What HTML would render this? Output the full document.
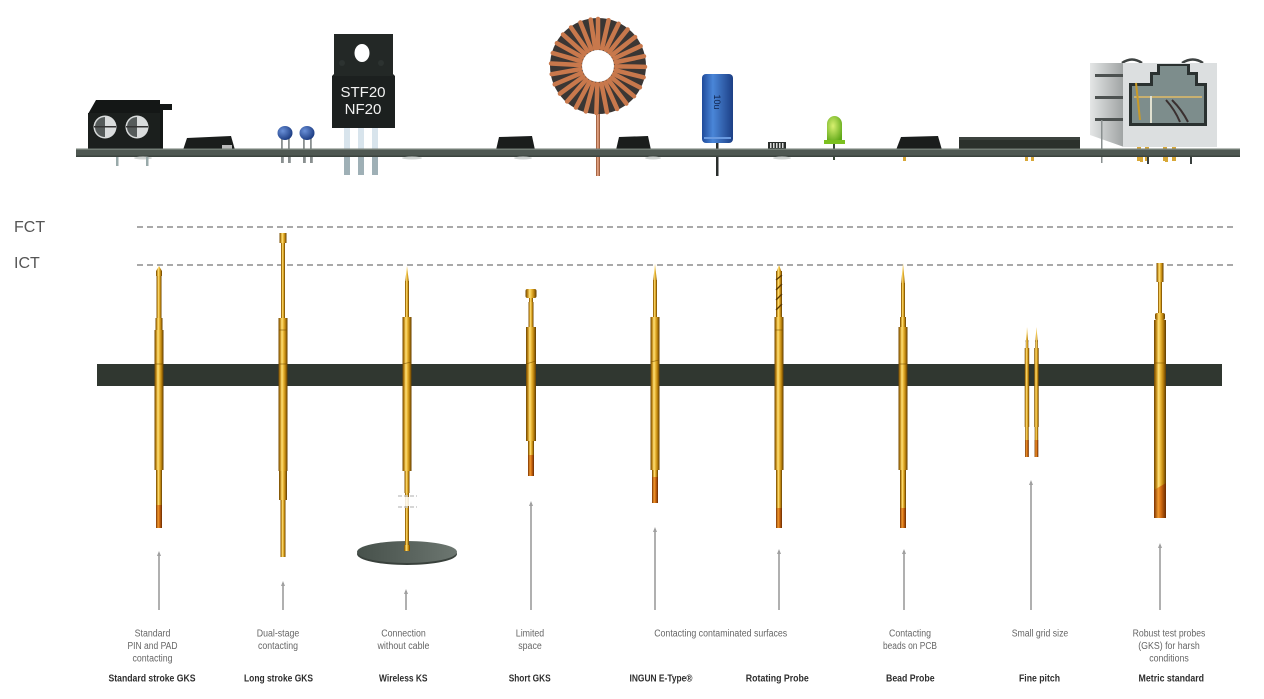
<!DOCTYPE html>
<html><head><meta charset="utf-8"><style>
html,body{margin:0;padding:0;background:#fff;}
svg{display:block;}
</style></head><body>
<svg width="1264" height="699" viewBox="0 0 1264 699" xmlns="http://www.w3.org/2000/svg">
<defs>
<linearGradient id="g" x1="0" x2="1" y1="0" y2="0">
<stop offset="0" stop-color="#6b4300"/><stop offset="0.2" stop-color="#c58d1a"/><stop offset="0.38" stop-color="#ffe27a"/><stop offset="0.52" stop-color="#f0c040"/><stop offset="0.75" stop-color="#c0860e"/><stop offset="1" stop-color="#5e3a00"/>
</linearGradient>
<linearGradient id="o" x1="0" x2="1" y1="0" y2="0">
<stop offset="0" stop-color="#7a3000"/><stop offset="0.35" stop-color="#f09a30"/><stop offset="0.6" stop-color="#d06a10"/><stop offset="1" stop-color="#6a2a00"/>
</linearGradient>
<linearGradient id="cu" x1="0" x2="1" y1="0" y2="0">
<stop offset="0" stop-color="#8a4a28"/><stop offset="0.45" stop-color="#f0b090"/><stop offset="1" stop-color="#8a4828"/>
</linearGradient>
<linearGradient id="bl" x1="0" x2="1" y1="0" y2="0">
<stop offset="0" stop-color="#1f4a9a"/><stop offset="0.35" stop-color="#4a86d8"/><stop offset="1" stop-color="#1c3f85"/>
</linearGradient>
<linearGradient id="disc" x1="0" x2="1" y1="0" y2="0">
<stop offset="0" stop-color="#47514b"/><stop offset="0.6" stop-color="#5c6660"/><stop offset="1" stop-color="#6d7771"/>
</linearGradient>
<linearGradient id="js" x1="0" x2="1" y1="0" y2="0">
<stop offset="0" stop-color="#e4e6e6"/><stop offset="1" stop-color="#9ea2a2"/>
</linearGradient>
<radialGradient id="led" cx="0.4" cy="0.4" r="0.7">
<stop offset="0" stop-color="#d8f070"/><stop offset="1" stop-color="#5fa818"/>
</radialGradient>
<radialGradient id="bc" cx="0.35" cy="0.35" r="0.7">
<stop offset="0" stop-color="#6a90d8"/><stop offset="1" stop-color="#1a3a80"/>
</radialGradient>
</defs>

<!-- terminal block -->
<path d="M88,114 L96,100 L160,100 L160,104 L172,104 L172,110 L163,110 L163,151 L88,151 Z" fill="#141716"/>
<rect x="88" y="113" width="72" height="38" fill="#1b1f1d"/>
<circle cx="105" cy="127" r="11.5" fill="#d9dcdc"/>
<circle cx="137" cy="127" r="11.5" fill="#d9dcdc"/>
<path d="M95,127 A10,10 0 0 1 105,117 L105,137 A10,10 0 0 1 95,127 Z" fill="#555b5a"/>
<path d="M127,127 A10,10 0 0 1 137,117 L137,137 A10,10 0 0 1 127,127 Z" fill="#555b5a"/>
<rect x="94" y="126" width="22" height="1.5" fill="#333"/>
<rect x="126" y="126" width="22" height="1.5" fill="#333"/>
<!-- smd 1 -->
<path d="M183,150 L187,138 L231,136 L235,150 Z" fill="#1a1d1c"/>
<rect x="222" y="145" width="10" height="4" fill="#bbb"/>
<!-- blue caps -->
<rect x="281" y="138" width="1.8" height="25" fill="#8a9090"/>
<rect x="288" y="138" width="1.8" height="25" fill="#8a9090"/>
<rect x="303" y="138" width="1.8" height="25" fill="#8a9090"/>
<rect x="310" y="138" width="1.8" height="25" fill="#8a9090"/>
<ellipse cx="285" cy="133" rx="7.5" ry="7" fill="url(#bc)"/>
<ellipse cx="307" cy="133" rx="7.5" ry="7" fill="url(#bc)"/>
<!-- TO-220 -->
<rect x="344" y="128" width="6" height="22" fill="#d8e4ec"/>
<rect x="358" y="128" width="6" height="22" fill="#d8e4ec"/>
<rect x="372" y="128" width="6" height="22" fill="#d8e4ec"/>
<path d="M334,34 L393,34 L393,74 L395,76 L395,128 L332,128 L332,76 L334,74 Z" fill="#1c201f"/>
<rect x="334" y="34" width="59" height="42" fill="#232826"/>
<ellipse cx="362" cy="53" rx="7.5" ry="9" fill="#fff"/>
<circle cx="342" cy="63" r="3" fill="#2c3230"/>
<circle cx="381" cy="63" r="3" fill="#2c3230"/>
<text x="363" y="97" font-family="Liberation Sans, sans-serif" font-size="15" fill="#f2f2f2" text-anchor="middle">STF20</text>
<text x="363" y="114" font-family="Liberation Sans, sans-serif" font-size="15" fill="#f2f2f2" text-anchor="middle">NF20</text>
<!-- toroid -->
<rect x="596" y="106" width="4" height="70" fill="url(#cu)"/>
<circle cx="598" cy="66" r="48" fill="#3a3634"/>
<g stroke="#c8784c" stroke-width="4.5" stroke-linecap="round">
<line x1="598" y1="48" x2="598" y2="19" transform="rotate(0 598 66)"/>
<line x1="598" y1="48" x2="598" y2="19" transform="rotate(13 598 66)"/>
<line x1="598" y1="48" x2="598" y2="19" transform="rotate(26 598 66)"/>
<line x1="598" y1="48" x2="598" y2="19" transform="rotate(39 598 66)"/>
<line x1="598" y1="48" x2="598" y2="19" transform="rotate(52 598 66)"/>
<line x1="598" y1="48" x2="598" y2="19" transform="rotate(65 598 66)"/>
<line x1="598" y1="48" x2="598" y2="19" transform="rotate(78 598 66)"/>
<line x1="598" y1="48" x2="598" y2="19" transform="rotate(91 598 66)"/>
<line x1="598" y1="48" x2="598" y2="19" transform="rotate(104 598 66)"/>
<line x1="598" y1="48" x2="598" y2="19" transform="rotate(117 598 66)"/>
<line x1="598" y1="48" x2="598" y2="19" transform="rotate(130 598 66)"/>
<line x1="598" y1="48" x2="598" y2="19" transform="rotate(143 598 66)"/>
<line x1="598" y1="48" x2="598" y2="19" transform="rotate(156 598 66)"/>
<line x1="598" y1="48" x2="598" y2="19" transform="rotate(169 598 66)"/>
<line x1="598" y1="48" x2="598" y2="19" transform="rotate(182 598 66)"/>
<line x1="598" y1="48" x2="598" y2="19" transform="rotate(195 598 66)"/>
<line x1="598" y1="48" x2="598" y2="19" transform="rotate(208 598 66)"/>
<line x1="598" y1="48" x2="598" y2="19" transform="rotate(221 598 66)"/>
<line x1="598" y1="48" x2="598" y2="19" transform="rotate(234 598 66)"/>
<line x1="598" y1="48" x2="598" y2="19" transform="rotate(247 598 66)"/>
<line x1="598" y1="48" x2="598" y2="19" transform="rotate(260 598 66)"/>
<line x1="598" y1="48" x2="598" y2="19" transform="rotate(273 598 66)"/>
<line x1="598" y1="48" x2="598" y2="19" transform="rotate(286 598 66)"/>
<line x1="598" y1="48" x2="598" y2="19" transform="rotate(299 598 66)"/>
<line x1="598" y1="48" x2="598" y2="19" transform="rotate(312 598 66)"/>
<line x1="598" y1="48" x2="598" y2="19" transform="rotate(325 598 66)"/>
<line x1="598" y1="48" x2="598" y2="19" transform="rotate(338 598 66)"/>
<line x1="598" y1="48" x2="598" y2="19" transform="rotate(351 598 66)"/>
</g>
<circle cx="598" cy="66" r="16" fill="#fff"/>
<!-- smd 2,3 -->
<path d="M496,150 L499,137 L532,136 L535,150 Z" fill="#1a1d1c"/>
<path d="M616,150 L619,137 L648,136 L651,150 Z" fill="#1a1d1c"/>
<!-- electrolytic -->
<rect x="716" y="140" width="2.5" height="36" fill="#2a2e2c"/>
<rect x="702" y="74" width="31" height="69" rx="4" fill="url(#bl)"/>
<text x="0" y="0" transform="translate(714,102) rotate(90)" font-family="Liberation Sans, sans-serif" font-size="9" fill="#0f2550" text-anchor="middle">10u</text>
<rect x="704" y="137" width="27" height="2" fill="#6a9ae0"/>
<!-- tiny chip -->
<rect x="768" y="142" width="18" height="8" fill="#2a2e2c"/>
<g fill="#ddd"><rect x="770" y="143" width="1.5" height="5"/><rect x="773" y="143" width="1.5" height="5"/><rect x="776" y="143" width="1.5" height="5"/><rect x="779" y="143" width="1.5" height="5"/><rect x="782" y="143" width="1.5" height="5"/></g>
<!-- LED -->
<rect x="833" y="142" width="2" height="18" fill="#3a4a3a"/>
<path d="M827,141 L827,124 A7.5,8 0 0 1 842,124 L842,141 Z" fill="url(#led)"/>
<rect x="824" y="140" width="21" height="4" fill="#7cc020"/>
<!-- smd 4 -->
<path d="M896,150 L901,137 L938,136 L942,150 Z" fill="#1a1d1c"/>
<!-- flat chip -->
<rect x="959" y="137" width="121" height="14" fill="#2b302c"/>
<rect x="959" y="137" width="121" height="3" fill="#3c423e"/>
<!-- RJ45 -->
<path d="M1122,63 Q1132,56 1142,63" stroke="#3e4342" stroke-width="2.5" fill="none"/>
<path d="M1182,63 Q1193,56 1203,63" stroke="#3e4342" stroke-width="2.5" fill="none"/>
<path d="M1090,63 L1124,63 L1124,147 L1090,135 Z" fill="url(#js)"/>
<g fill="#4c5150"><rect x="1095" y="74" width="28" height="3"/><rect x="1095" y="96" width="28" height="3"/><rect x="1095" y="118" width="28" height="3"/></g>
<rect x="1123" y="63" width="94" height="84" fill="#dcdfe0"/>
<path d="M1157,64 L1190,64 L1190,72 L1198,72 L1198,83 L1207,83 L1207,126 L1129,126 L1129,83 L1150,83 L1150,72 L1157,72 Z" fill="#2a3130"/>
<path d="M1160,66 L1187,66 L1187,75 L1195,75 L1195,86 L1204,86 L1204,123 L1132,123 L1132,86 L1153,86 L1153,75 L1160,75 Z" fill="#7d8d8c"/>
<rect x="1134" y="96" width="68" height="2" fill="#c8b070"/>
<rect x="1150" y="96" width="2" height="27" fill="#e0e0d0"/>
<path d="M1136,83 L1140,120" stroke="#c89a28" stroke-width="2"/>
<path d="M1166,100 Q1175,110 1180,122" stroke="#3a3030" stroke-width="2" fill="none"/>
<path d="M1172,100 Q1182,110 1188,122" stroke="#3a3030" stroke-width="2" fill="none"/>
<rect x="1101" y="120" width="1.5" height="43" fill="#8a9090"/>
<g fill="#d8a838"><rect x="1137" y="147" width="4" height="14"/><rect x="1145" y="147" width="4" height="14"/><rect x="1163" y="147" width="4" height="14"/><rect x="1172" y="147" width="4" height="14"/></g>
<!-- board -->
<rect x="76" y="148.5" width="1164" height="8.5" fill="#4f5852"/>
<rect x="76" y="148.5" width="1164" height="1.5" fill="#737d76"/>
<rect x="76" y="155.5" width="1164" height="1.5" fill="#3b433e"/>
<g fill="#d0d4d2"><ellipse cx="143" cy="158" rx="9" ry="1.5"/><ellipse cx="412" cy="158" rx="10" ry="1.5"/><ellipse cx="523" cy="158" rx="9" ry="1.5"/><ellipse cx="782" cy="158" rx="9" ry="1.5"/><ellipse cx="653" cy="158" rx="8" ry="1.5"/></g>
<!-- leads below board -->
<rect x="596" y="157" width="4" height="19" fill="url(#cu)"/>
<rect x="716" y="157" width="2.5" height="19" fill="#2a2e2c"/>
<rect x="344" y="157" width="6" height="18" fill="#9fb0b6"/>
<rect x="358" y="157" width="6" height="18" fill="#9fb0b6"/>
<rect x="372" y="157" width="6" height="18" fill="#9fb0b6"/>
<rect x="116" y="157" width="2.5" height="9" fill="#9aa"/>
<rect x="146" y="157" width="2.5" height="9" fill="#9aa"/>
<rect x="282" y="157" width="1.8" height="6" fill="#8a9090"/>
<rect x="289" y="157" width="1.8" height="6" fill="#8a9090"/>
<rect x="304" y="157" width="1.8" height="6" fill="#8a9090"/>
<rect x="311" y="157" width="1.8" height="6" fill="#8a9090"/>
<rect x="1101" y="157" width="1.5" height="6" fill="#8a9090"/>
<rect x="1147" y="157" width="2" height="7" fill="#3a403e"/>
<rect x="1190" y="157" width="2" height="7" fill="#3a403e"/>
<g fill="#d8a838"><rect x="903" y="157" width="3" height="4"/><rect x="1025" y="157" width="3" height="4"/><rect x="1031" y="157" width="3" height="4"/><rect x="1140" y="157" width="3" height="5"/><rect x="1165" y="157" width="3" height="5"/></g>

<!-- FCT / ICT -->
<text x="14" y="232" font-family="Liberation Sans, sans-serif" font-size="16" fill="#555">FCT</text>
<text x="14" y="268" font-family="Liberation Sans, sans-serif" font-size="16" fill="#555">ICT</text>
<line x1="137" y1="227" x2="1234" y2="227" stroke="#a9a9a9" stroke-width="2" stroke-dasharray="6 4"/>
<line x1="137" y1="265" x2="1234" y2="265" stroke="#a9a9a9" stroke-width="2" stroke-dasharray="6 4"/>

<!-- bar -->
<rect x="97" y="364" width="1125" height="22" fill="#303730"/>

<!-- wireless disc -->
<ellipse cx="407" cy="554" rx="50" ry="11" fill="#39413c"/>
<ellipse cx="407" cy="552" rx="50" ry="11" fill="url(#disc)"/>

<!-- probes -->
<g fill="url(#g)">
<polygon points="156,276 156,271 159,266 162,271 162,276"/>
<rect x="156.5" y="276" width="5" height="42"/>
<rect x="155.5" y="318" width="7" height="12"/>
<rect x="154.5" y="330" width="9" height="140"/>
<rect x="156" y="470" width="6" height="58"/>
<rect x="279.5" y="233" width="7" height="10"/>
<rect x="281" y="243" width="4" height="75"/>
<rect x="278.5" y="318" width="9" height="153"/>
<rect x="279" y="471" width="8" height="29"/>
<rect x="280.5" y="500" width="5" height="57"/>
<polygon points="405,283 407,266 409,283"/>
<rect x="405" y="281" width="4" height="36"/>
<rect x="402.5" y="317" width="9" height="154"/>
<rect x="404.5" y="471" width="5" height="22"/>
<rect x="405" y="493" width="4" height="54"/>
<rect x="404" y="545" width="6" height="6"/>
<rect x="525.5" y="289" width="11" height="9" rx="2"/>
<rect x="529" y="298" width="4" height="4"/>
<rect x="528.5" y="302" width="5" height="25"/>
<rect x="526" y="327" width="10" height="114"/>
<rect x="528" y="441" width="6" height="35"/>
<polygon points="653,282 655,264 657,282"/>
<rect x="653" y="280" width="4" height="37"/>
<rect x="650.5" y="317" width="9" height="153"/>
<rect x="652" y="470" width="6" height="33"/>
<polygon points="776,273 779,265 782,273"/>
<rect x="776" y="271" width="6" height="46"/>
<rect x="774.5" y="317" width="9" height="153"/>
<rect x="776" y="470" width="6" height="58"/>
<polygon points="901,285 903,263 905,285"/>
<rect x="901" y="283" width="4" height="34"/>
<rect x="900" y="317" width="6" height="10"/>
<rect x="898.5" y="327" width="9" height="143"/>
<rect x="900" y="470" width="6" height="58"/>
<polygon points="1025.8,342 1027,327 1028.2,342"/>
<rect x="1025.8" y="340" width="2.5" height="8"/>
<rect x="1024.7" y="348" width="4.5" height="79"/>
<rect x="1025.2" y="427" width="3.5" height="30"/>
<polygon points="1035.3,342 1036.5,327 1037.7,342"/>
<rect x="1035.3" y="340" width="2.5" height="8"/>
<rect x="1034.2" y="348" width="4.5" height="79"/>
<rect x="1034.7" y="427" width="3.5" height="30"/>
<rect x="1156.5" y="263" width="7" height="19"/>
<rect x="1158" y="282" width="4" height="31"/>
<rect x="1155" y="313" width="10" height="7" rx="2"/>
<rect x="1154" y="320" width="12" height="198"/>
</g>
<g fill="url(#o)">
<rect x="156" y="505" width="6" height="23"/>
<rect x="528" y="455" width="6" height="21"/>
<rect x="652" y="477" width="6" height="26"/>
<rect x="776" y="508" width="6" height="20"/>
<rect x="900" y="508" width="6" height="20"/>
<rect x="1025.2" y="440" width="3.5" height="17"/>
<rect x="1034.7" y="440" width="3.5" height="17"/>
<polygon points="1154,490 1166,483 1166,518 1154,518"/>
</g>
<g stroke="#7a5000" stroke-width="0.8" opacity="0.7">
<line x1="154.5" y1="364" x2="163.5" y2="364"/>
<line x1="278.5" y1="330" x2="287.5" y2="330"/>
<line x1="278.5" y1="364" x2="287.5" y2="364"/>
<line x1="402.5" y1="364" x2="411.5" y2="362"/>
<line x1="526" y1="364" x2="536" y2="361"/>
<line x1="650.5" y1="362" x2="659.5" y2="360"/>
<line x1="774.5" y1="330" x2="783.5" y2="330"/>
<line x1="898.5" y1="364" x2="907.5" y2="364"/>
<line x1="1154" y1="363" x2="1166" y2="363"/>
</g>
<g stroke="#5a3800" stroke-width="1.3">
<line x1="776" y1="280" x2="782" y2="275"/>
<line x1="776" y1="290" x2="782" y2="284"/>
<line x1="776" y1="300" x2="782" y2="294"/>
<line x1="776" y1="310" x2="782" y2="304"/>
</g>
<g stroke="#c8c8c8" stroke-width="1.5" stroke-dasharray="4 2">
<line x1="398" y1="496" x2="417" y2="496"/>
<line x1="398" y1="507" x2="417" y2="507"/>
</g>
<rect x="404" y="497" width="6" height="9" fill="#fff" opacity="0.85"/>

<!-- pointer lines -->
<g stroke="#a8a8a8" stroke-width="1.8">
<line x1="159" y1="553" x2="159" y2="610"/>
<line x1="283" y1="583" x2="283" y2="610"/>
<line x1="406" y1="591" x2="406" y2="610"/>
<line x1="531" y1="503" x2="531" y2="610"/>
<line x1="655" y1="529" x2="655" y2="610"/>
<line x1="779" y1="551" x2="779" y2="610"/>
<line x1="904" y1="551" x2="904" y2="610"/>
<line x1="1031" y1="482" x2="1031" y2="610"/>
<line x1="1160" y1="545" x2="1160" y2="610"/>
</g>
<g fill="#a0a0a0">
<polygon points="157,556 159,551 161,556"/>
<polygon points="281,586 283,581 285,586"/>
<polygon points="404,594 406,589 408,594"/>
<polygon points="529,506 531,501 533,506"/>
<polygon points="653,532 655,527 657,532"/>
<polygon points="777,554 779,549 781,554"/>
<polygon points="902,554 904,549 906,554"/>
<polygon points="1029,485 1031,480 1033,485"/>
<polygon points="1158,548 1160,543 1162,548"/>
</g>

<!-- descriptions -->
<g font-family="Liberation Sans, sans-serif" font-size="10" fill="#666" text-anchor="middle">
<text x="152.5" y="636.5" textLength="35.7" lengthAdjust="spacingAndGlyphs">Standard</text>
<text x="152.5" y="649" textLength="50" lengthAdjust="spacingAndGlyphs">PIN and PAD</text>
<text x="152.5" y="661.3" textLength="40" lengthAdjust="spacingAndGlyphs">contacting</text>
<text x="278" y="636.5" textLength="42.5" lengthAdjust="spacingAndGlyphs">Dual-stage</text>
<text x="278" y="649" textLength="40" lengthAdjust="spacingAndGlyphs">contacting</text>
<text x="403.5" y="636.5" textLength="44.5" lengthAdjust="spacingAndGlyphs">Connection</text>
<text x="403.5" y="649" textLength="52" lengthAdjust="spacingAndGlyphs">without cable</text>
<text x="530" y="636.5" textLength="28.4" lengthAdjust="spacingAndGlyphs">Limited</text>
<text x="530" y="649" textLength="23.5" lengthAdjust="spacingAndGlyphs">space</text>
<text x="720.7" y="636.5" textLength="133" lengthAdjust="spacingAndGlyphs">Contacting contaminated surfaces</text>
<text x="910" y="636.5" textLength="42" lengthAdjust="spacingAndGlyphs">Contacting</text>
<text x="910" y="649" textLength="54" lengthAdjust="spacingAndGlyphs">beads on PCB</text>
<text x="1040" y="636.5" textLength="56.5" lengthAdjust="spacingAndGlyphs">Small grid size</text>
<text x="1169" y="636.5" textLength="72.7" lengthAdjust="spacingAndGlyphs">Robust test probes</text>
<text x="1169" y="649" textLength="61.6" lengthAdjust="spacingAndGlyphs">(GKS) for harsh</text>
<text x="1169" y="661.3" textLength="39.6" lengthAdjust="spacingAndGlyphs">conditions</text>
</g>

<!-- titles -->
<g font-family="Liberation Sans, sans-serif" font-size="10.5" font-weight="bold" fill="#2e2e2e" text-anchor="middle">
<text x="152" y="681.5" textLength="87" lengthAdjust="spacingAndGlyphs">Standard stroke GKS</text>
<text x="278.5" y="681.5" textLength="69" lengthAdjust="spacingAndGlyphs">Long stroke GKS</text>
<text x="403.3" y="681.5" textLength="48.5" lengthAdjust="spacingAndGlyphs">Wireless KS</text>
<text x="529.7" y="681.5" textLength="42" lengthAdjust="spacingAndGlyphs">Short GKS</text>
<text x="661" y="681.5" textLength="63" lengthAdjust="spacingAndGlyphs">INGUN E-Type®</text>
<text x="777.3" y="681.5" textLength="63" lengthAdjust="spacingAndGlyphs">Rotating Probe</text>
<text x="910.3" y="681.5" textLength="48.6" lengthAdjust="spacingAndGlyphs">Bead Probe</text>
<text x="1039.5" y="681.5" textLength="41" lengthAdjust="spacingAndGlyphs">Fine pitch</text>
<text x="1171.3" y="681.5" textLength="65.5" lengthAdjust="spacingAndGlyphs">Metric standard</text>
</g>
</svg>
</body></html>
